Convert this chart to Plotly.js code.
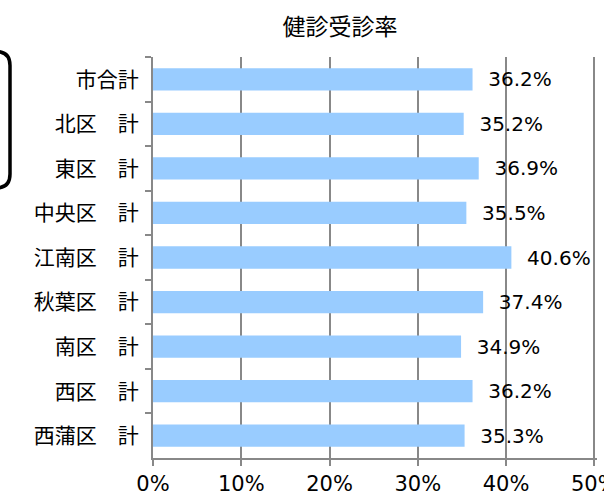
<!DOCTYPE html>
<html>
<head>
<meta charset="utf-8">
<script src="https://cdn.plot.ly/plotly-3.0.1.min.js"></script>
<style>
html,body{margin:0;padding:0;background:#fff;}
#chart{width:604px;height:496px;}
</style>
</head>
<body>
<div id="chart"></div>
<script>
const categories = ["市合計", "北区　計", "東区　計", "中央区　計", "江南区　計", "秋葉区　計", "南区　計", "西区　計", "西蒲区　計"];
const rates = [36.2, 35.2, 36.9, 35.5, 40.6, 37.4, 34.9, 36.2, 35.3];
const xTickVals = [0, 10, 20, 30, 40, 50];
const xTickText = ["0%", "10%", "20%", "30%", "40%", "50%"];

const FONT = '"Noto Sans CJK JP", "Noto Sans", sans-serif';
const NUMFONT = '"DejaVu Sans", sans-serif';
const M = {l: 153, r: 7, t: 57, b: 38};
const W = 604, H = 496;
const XMAX = 50.3;
const pw = W - M.l - M.r, ph = H - M.t - M.b;
const px = v => (v - M.l) / pw;
const py = v => (H - M.b - v) / ph;

// rounded box partly off the left edge
const bx0 = px(-30), bx1 = px(10), by0 = py(51.5), by1 = py(188);
const rx = 14 / pw, ry = 14 / ph;
const boxPath = `M ${bx0},${by0} L ${bx1 - rx},${by0} Q ${bx1},${by0} ${bx1},${by0 - ry} ` +
  `L ${bx1},${by1 + ry} Q ${bx1},${by1} ${bx1 - rx},${by1} L ${bx0},${by1}`;

const trace = {
  type: 'bar',
  orientation: 'h',
  y: categories,
  x: rates,
  marker: {color: '#99CCFF', line: {width: 0}},
  text: rates.map(v => '\u00a0\u00a0' + v.toFixed(1) + '%'),
  textposition: 'outside',
  constraintext: 'none',
  textfont: {family: NUMFONT, size: 20, color: '#000'},
  cliponaxis: false,
  hoverinfo: 'none'
};

const layout = {
  width: W, height: H,
  margin: M,
  paper_bgcolor: '#fff',
  plot_bgcolor: '#fff',
  bargap: 0.5,
  showlegend: false,
  font: {family: FONT, color: '#000'},
  title: {text: '健診受診率', font: {family: FONT, size: 23, color: '#000'}, x: 0.563, xanchor: 'center', xref: 'container', y: 0.945, yanchor: 'middle', yref: 'container'},
  xaxis: {
    range: [0, XMAX],
    tickvals: xTickVals,
    ticktext: xTickText,
    ticklabeloverflow: 'allow',
    showgrid: true, gridcolor: '#888888', gridwidth: 2,
    zeroline: false,
    showline: true, linecolor: '#888888', linewidth: 2,
    ticks: 'outside', ticklen: 6, tickwidth: 2, tickcolor: '#888888',
    tickfont: {family: NUMFONT, size: 21, color: '#000'},
    fixedrange: true
  },
  yaxis: {
    type: 'category',
    autorange: 'reversed',
    showgrid: false, zeroline: false,
    showline: true, linecolor: '#888888', linewidth: 2,
    ticks: 'outside', tickson: 'boundaries', ticklen: 6, tickwidth: 2, tickcolor: '#888888',
    ticklabelstandoff: 8,
    tickfont: {family: FONT, size: 21, color: '#000'},
    fixedrange: true
  },
  shapes: [{
    type: 'path', xref: 'paper', yref: 'paper', path: boxPath,
    line: {color: '#000', width: 3.5}, fillcolor: 'rgba(0,0,0,0)'
  }]
};

Plotly.newPlot('chart', [trace], layout, {staticPlot: true, displayModeBar: false});
</script>
</body>
</html>
